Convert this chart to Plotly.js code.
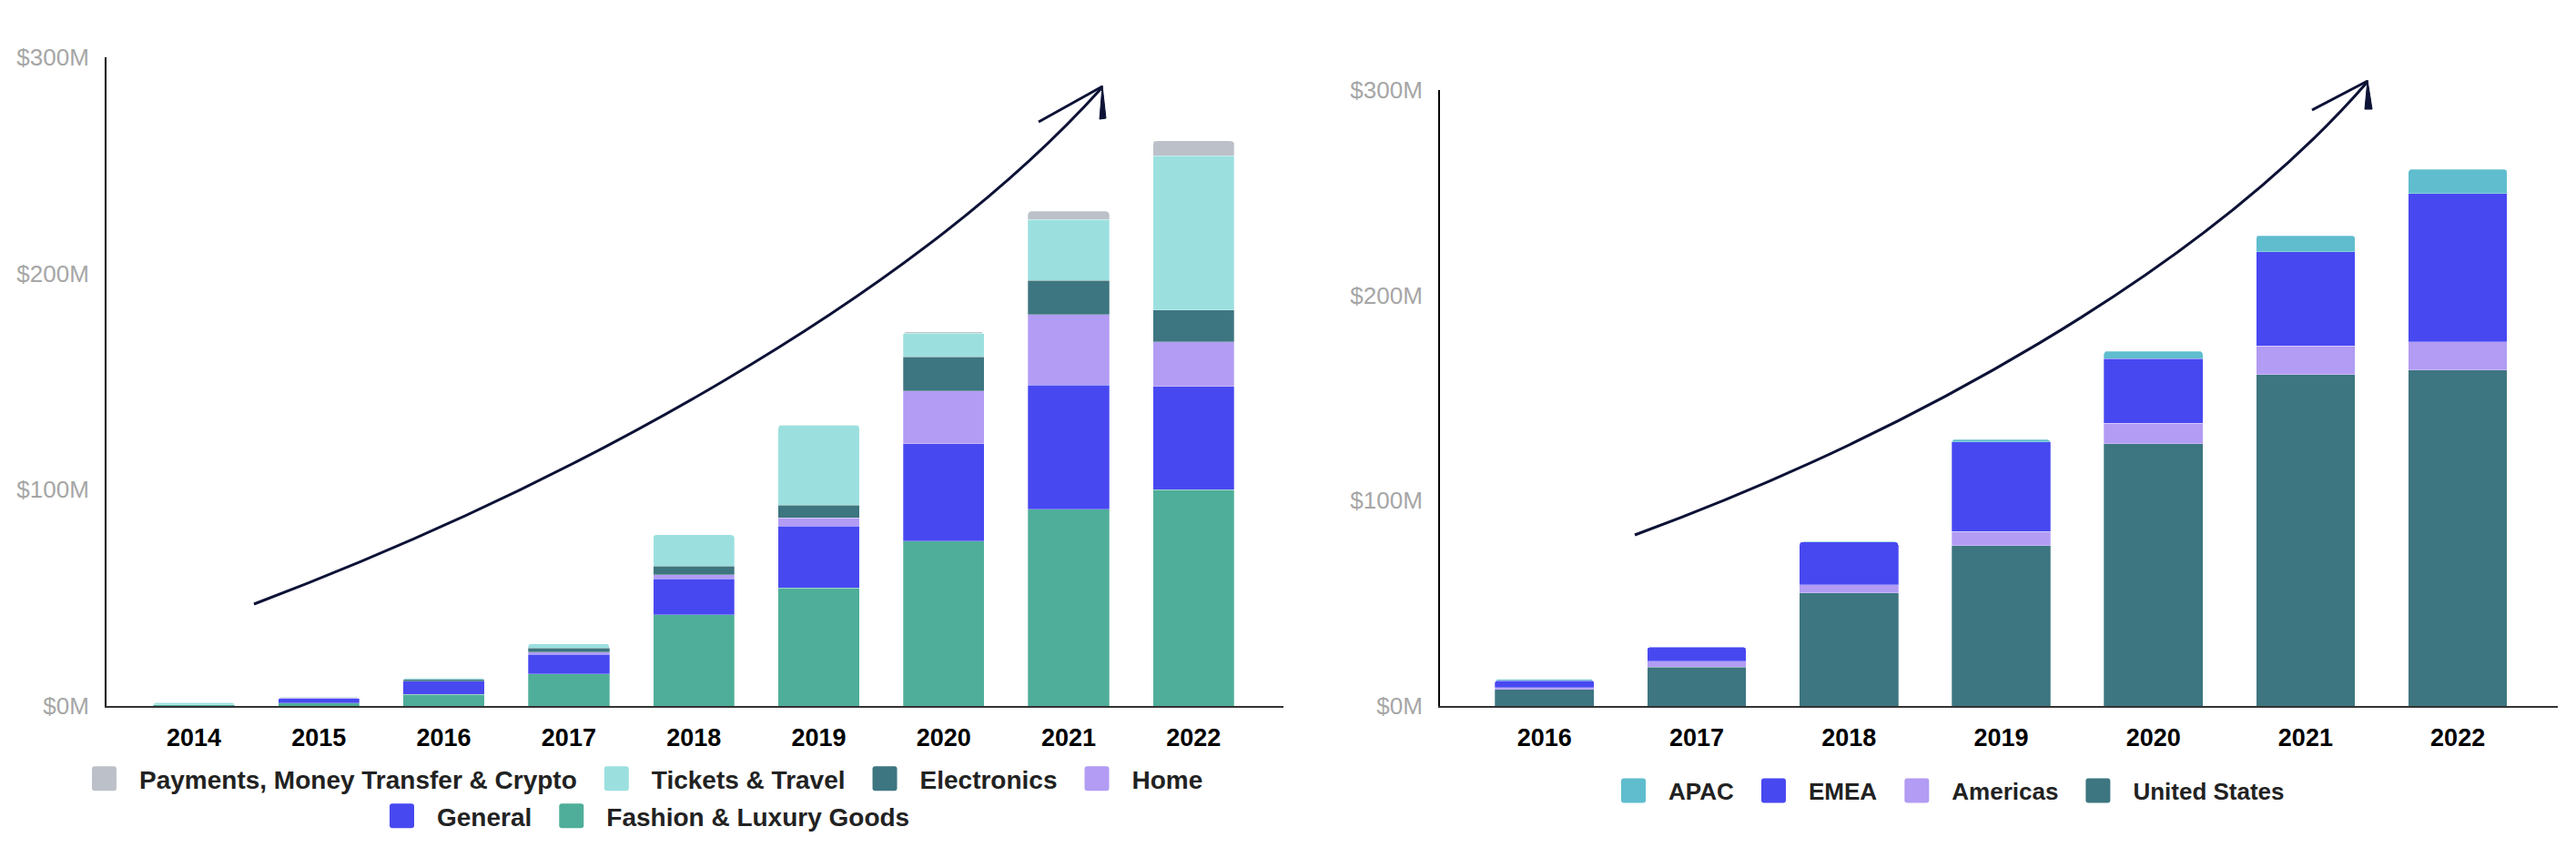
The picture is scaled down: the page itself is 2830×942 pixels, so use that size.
<!DOCTYPE html>
<html>
<head>
<meta charset="utf-8">
<script src="https://cdn.plot.ly/plotly-3.0.1.min.js"></script>
<style>html,body{margin:0;padding:0;background:#fff;}</style>
</head>
<body>
<div id="chart"></div>
<script>
// ---------- DATA (values in $ millions) ----------
const yearsLeft = ['2014','2015','2016','2017','2018','2019','2020','2021','2022'];
const fashion   = [0.6, 1.3, 5.3, 14.9, 42.2, 54.7, 76.3, 91.0, 100.1];
const general   = [0.0, 2.4, 6.1,  9.0, 16.6, 28.6, 44.9, 57.5,  47.7];
const home      = [0.0, 0.0, 0.0,  1.1,  1.9,  3.7, 24.4, 32.6,  20.6];
const electronics = [0.0, 0.4, 0.9, 1.8, 4.0,  5.9, 15.8, 15.8,  14.8];
const tickets   = [1.0, 0.0, 0.7,  2.0, 14.5, 37.1, 11.1, 28.2,  71.3];
const payments  = [0.0, 0.0, 0.0,  0.0,  0.0,  0.0,  0.5,  3.7,   6.8];

const yearsRight = ['2016','2017','2018','2019','2020','2021','2022'];
const unitedStates = [8.1, 18.9, 55.1, 78.0, 127.8, 161.5, 163.6];
const americas     = [0.9,  2.9,  4.0,  6.9,  10.0,  13.8,  13.8];
const emea         = [3.3,  7.0, 20.7, 43.8,  31.3,  45.9,  72.3];
const apac         = [0.7,  0.1,  0.2,  1.1,   3.7,   7.9,  11.7];

const yTicks = [0, 100, 200, 300];
const yTickText = yTicks.map(v => '$' + v + 'M');

// ---------- STYLE ----------
const W = 2830, H = 942;
const FONT = 'Liberation Sans, Arial, Helvetica, sans-serif';
const C = {
  payments: '#bcc1c9', tickets: '#9be0df', electronics: '#3d7680',
  home: '#b29cf4', general: '#4848f1', fashion: '#4fae99',
  apac: '#5fbdce', emea: '#4848f1', americas: '#b29cf4', us: '#3d7680'
};
const px = x => x / W;
const py = y => 1 - y / H;
const segLine = {width: 0.8, color: 'rgba(255,255,255,0.35)'};

function barTrace(name, x, y, color, xa, ya, legend) {
  return {type: 'bar', name: name, x: x, y: y, xaxis: xa, yaxis: ya,
          legend: legend, marker: {color: color, line: segLine},
          hoverinfo: 'skip'};
}

const data = [
  barTrace('Fashion & Luxury Goods', yearsLeft, fashion, C.fashion, 'x', 'y', 'legend2'),
  barTrace('General', yearsLeft, general, C.general, 'x', 'y', 'legend2'),
  barTrace('Home', yearsLeft, home, C.home, 'x', 'y', 'legend'),
  barTrace('Electronics', yearsLeft, electronics, C.electronics, 'x', 'y', 'legend'),
  barTrace('Tickets & Travel', yearsLeft, tickets, C.tickets, 'x', 'y', 'legend'),
  barTrace('Payments, Money Transfer & Crypto', yearsLeft, payments, C.payments, 'x', 'y', 'legend'),
  barTrace('United States', yearsRight, unitedStates, C.us, 'x2', 'y2', 'legend3'),
  barTrace('Americas', yearsRight, americas, C.americas, 'x2', 'y2', 'legend3'),
  barTrace('EMEA', yearsRight, emea, C.emea, 'x2', 'y2', 'legend3'),
  barTrace('APAC', yearsRight, apac, C.apac, 'x2', 'y2', 'legend3')
];

const xTickFont = {family: FONT, size: 27, color: '#000', weight: 700};
const yTickFont = {family: FONT, size: 26, color: '#a6a6a6'};

function xAxis(domain, range, anchor) {
  return {domain: domain, range: range, type: 'category', anchor: anchor,
          showline: true, linecolor: '#333', linewidth: 2, ticks: '',
          showgrid: false, zeroline: false, tickfont: xTickFont,
          ticklabelstandoff: 10, fixedrange: true};
}
function yAxis(domain, anchor) {
  return {domain: domain, range: [0, 300], anchor: anchor,
          tickmode: 'array', tickvals: yTicks, ticktext: yTickText,
          showline: true, linecolor: '#000', linewidth: 2, ticks: '',
          showgrid: false, zeroline: false, tickfont: yTickFont,
          ticklabelstandoff: 12, fixedrange: true};
}

function legendAt(xPix, yPix, fontSize) {
  return {orientation: 'h', x: px(xPix), xanchor: 'left', y: py(yPix), yanchor: 'middle',
          traceorder: 'reversed', itemwidth: 67,
          font: {family: FONT, size: fontSize, color: '#222', weight: 700},
          bgcolor: 'rgba(0,0,0,0)', borderwidth: 0, itemclick: false, itemdoubleclick: false};
}

// hand-drawn style growth arrows (decoration, in paper coords)
const NAVY = '#0d1236';
function P(x, y) { return px(x).toFixed(5) + ',' + py(y).toFixed(5); }
const shapes = [
  {type: 'path', xref: 'paper', yref: 'paper', layer: 'above',
   path: 'M' + P(279, 664) + ' C' + P(620, 535) + ' ' + P(1000, 330) + ' ' + P(1210, 97),
   line: {color: NAVY, width: 3}},
  {type: 'path', xref: 'paper', yref: 'paper', layer: 'above',
   path: 'M' + P(1141, 134) + ' L' + P(1211, 95),
   line: {color: NAVY, width: 3}},
  {type: 'path', xref: 'paper', yref: 'paper', layer: 'above',
   path: 'M' + P(1211, 94) + ' L' + P(1208, 131) + ' L' + P(1215, 130) + ' Z',
   fillcolor: NAVY, line: {color: NAVY, width: 1}},
  {type: 'path', xref: 'paper', yref: 'paper', layer: 'above',
   path: 'M' + P(1796, 588) + ' C' + P(2090, 480) + ' ' + P(2418, 300) + ' ' + P(2600, 91),
   line: {color: NAVY, width: 3}},
  {type: 'path', xref: 'paper', yref: 'paper', layer: 'above',
   path: 'M' + P(2540, 121) + ' L' + P(2601, 89),
   line: {color: NAVY, width: 3}},
  {type: 'path', xref: 'paper', yref: 'paper', layer: 'above',
   path: 'M' + P(2601, 88) + ' L' + P(2598, 120) + ' L' + P(2606, 120) + ' Z',
   fillcolor: NAVY, line: {color: NAVY, width: 1}}
];

const layout = {
  width: W, height: H,
  margin: {l: 0, r: 0, t: 0, b: 0},
  paper_bgcolor: '#fff', plot_bgcolor: '#fff',
  font: {family: FONT},
  barmode: 'stack', bargap: 0.35, barcornerradius: 4,
  showlegend: true,
  xaxis: xAxis([px(117), px(1410)], [-0.6995, 8.719], 'y'),
  yaxis: yAxis([py(776), py(63)], 'x'),
  xaxis2: xAxis([px(1582), px(2810)], [-0.686, 6.657], 'y2'),
  yaxis2: yAxis([py(776), py(99)], 'x2'),
  legend: legendAt(76, 856, 28),
  legend2: legendAt(403, 897, 28),
  legend3: legendAt(1756, 869, 26),
  shapes: shapes
};

// enlarge legend swatches to the reference's big rounded squares
const RSQ = 'M-10.5,-13.5H10.5A3,3 0 0 1 13.5,-10.5V10.5A3,3 0 0 1 10.5,13.5H-10.5A3,3 0 0 1 -13.5,10.5V-10.5A3,3 0 0 1 -10.5,-13.5Z';
function bigSwatches() {
  gd.querySelectorAll('g.legendpoints path').forEach(function (p) {
    p.setAttribute('d', RSQ);
    p.style.strokeWidth = '0px';
  });
}
const gd = document.getElementById('chart');
Plotly.newPlot(gd, data, layout, {displayModeBar: false, responsive: false}).then(function () {
  bigSwatches();
  gd.on('plotly_afterplot', bigSwatches);
  setTimeout(bigSwatches, 50);
  setTimeout(bigSwatches, 300);
});
</script>
</body>
</html>
